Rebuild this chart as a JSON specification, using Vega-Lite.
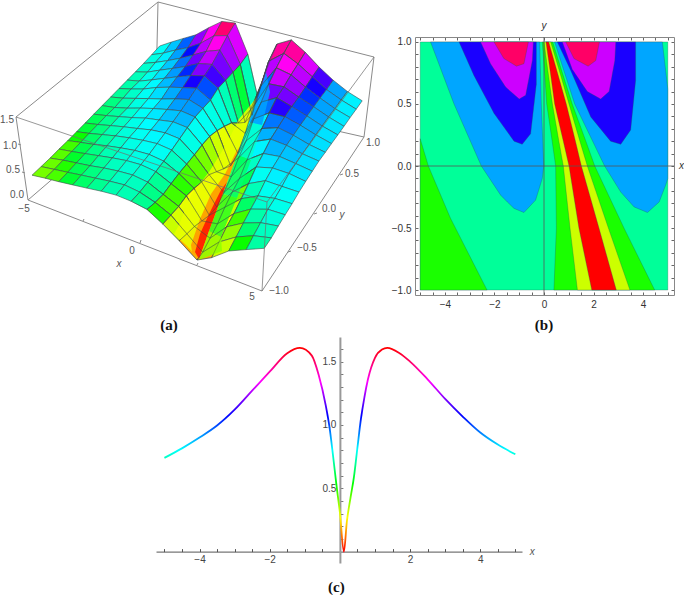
{"$schema":"https://vega.github.io/schema/vega-lite/v6.json","padding":0,"background":"white","spacing":3,"config":{"view":{"stroke":null},"concat":{"spacing":0},"text":{"font":"Liberation Sans"},"axis":{"labelFont":"Liberation Sans","grid":false,"title":null}},
"datasets":{
"surf":[
{"i":0,"j":15,"Xa":160.7,"Ya":44,"z":0.74},{"i":1,"j":15,"Xa":172.5,"Ya":40,"z":0.87},{"i":2,"j":15,"Xa":184.5,"Ya":36.4,"z":1.0},{"i":3,"j":15,"Xa":196.9,"Ya":32.8,"z":1.13},{"i":4,"j":15,"Xa":209.7,"Ya":25.7,"z":1.33},{"i":5,"j":15,"Xa":222.9,"Ya":19.4,"z":1.52},{"i":6,"j":15,"Xa":236.3,"Ya":21,"z":1.6},{"i":7,"j":15,"Xa":248.8,"Ya":52.1,"z":1.05},{"i":8,"j":15,"Xa":258,"Ya":92,"z":0.55},{"i":9,"j":15,"Xa":278,"Ya":42,"z":1.53},{"i":10,"j":15,"Xa":292.3,"Ya":37.9,"z":1.57},{"i":11,"j":15,"Xa":306.2,"Ya":50.3,"z":1.41},{"i":12,"j":15,"Xa":320.1,"Ya":65.1,"z":1.2},{"i":13,"j":15,"Xa":334.2,"Ya":78.2,"z":1.02},{"i":14,"j":15,"Xa":348.4,"Ya":89.5,"z":0.875},{"i":15,"j":15,"Xa":363.2,"Ya":98.8,"z":0.77},
{"i":0,"j":14,"Xa":152.7,"Ya":52.7,"z":0.71},{"i":1,"j":14,"Xa":164.5,"Ya":51.1,"z":0.8},{"i":2,"j":14,"Xa":176.6,"Ya":48,"z":0.92},{"i":3,"j":14,"Xa":189,"Ya":45.6,"z":1.03},{"i":4,"j":14,"Xa":201.8,"Ya":41.2,"z":1.18},{"i":5,"j":14,"Xa":215,"Ya":33.8,"z":1.39},{"i":6,"j":14,"Xa":228.5,"Ya":33.6,"z":1.47},{"i":7,"j":14,"Xa":241.3,"Ya":62.4,"z":1.0},{"i":8,"j":14,"Xa":252.9,"Ya":113.2,"z":0.1},{"i":9,"j":14,"Xa":269.7,"Ya":59.2,"z":1.22},{"i":10,"j":14,"Xa":284.8,"Ya":51.3,"z":1.46},{"i":11,"j":14,"Xa":299,"Ya":61.9,"z":1.34},{"i":12,"j":14,"Xa":313.3,"Ya":74.8,"z":1.17},{"i":13,"j":14,"Xa":327.6,"Ya":87.6,"z":1.0},{"i":14,"j":14,"Xa":342.2,"Ya":97.9,"z":0.88},{"i":15,"j":14,"Xa":357.2,"Ya":107.2,"z":0.78},
{"i":0,"j":13,"Xa":144.6,"Ya":61.4,"z":0.68},{"i":1,"j":13,"Xa":156.5,"Ya":60.4,"z":0.76},{"i":2,"j":13,"Xa":168.7,"Ya":58.6,"z":0.86},{"i":3,"j":13,"Xa":181.2,"Ya":56.2,"z":0.97},{"i":4,"j":13,"Xa":194.1,"Ya":53,"z":1.1},{"i":5,"j":13,"Xa":207.2,"Ya":49.4,"z":1.24},{"i":6,"j":13,"Xa":220.8,"Ya":48.1,"z":1.34},{"i":7,"j":13,"Xa":234,"Ya":70.3,"z":1.0},{"i":8,"j":13,"Xa":246,"Ya":120.4,"z":0.12},{"i":9,"j":13,"Xa":261.6,"Ya":84.3,"z":0.89},{"i":10,"j":13,"Xa":277.4,"Ya":65.8,"z":1.33},{"i":11,"j":13,"Xa":292,"Ya":72.8,"z":1.28},{"i":12,"j":13,"Xa":306.5,"Ya":85.1,"z":1.13},{"i":13,"j":13,"Xa":321.1,"Ya":96.1,"z":1.0},{"i":14,"j":13,"Xa":335.9,"Ya":106.6,"z":0.88},{"i":15,"j":13,"Xa":351.1,"Ya":115.6,"z":0.79},
{"i":0,"j":12,"Xa":136.5,"Ya":69.8,"z":0.66},{"i":1,"j":12,"Xa":148.5,"Ya":70.1,"z":0.72},{"i":2,"j":12,"Xa":160.7,"Ya":68.2,"z":0.82},{"i":3,"j":12,"Xa":173.4,"Ya":66.5,"z":0.92},{"i":4,"j":12,"Xa":186.3,"Ya":64.5,"z":1.03},{"i":5,"j":12,"Xa":199.5,"Ya":61.5,"z":1.16},{"i":6,"j":12,"Xa":213,"Ya":62.4,"z":1.22},{"i":7,"j":12,"Xa":226.6,"Ya":78.3,"z":1.0},{"i":8,"j":12,"Xa":239.4,"Ya":121,"z":0.27},{"i":9,"j":12,"Xa":254,"Ya":105.1,"z":0.65},{"i":10,"j":12,"Xa":269.8,"Ya":81.8,"z":1.18},{"i":11,"j":12,"Xa":284.9,"Ya":84.8,"z":1.21},{"i":12,"j":12,"Xa":299.7,"Ya":95.1,"z":1.1},{"i":13,"j":12,"Xa":314.7,"Ya":104.8,"z":1.0},{"i":14,"j":12,"Xa":329.6,"Ya":115,"z":0.89},{"i":15,"j":12,"Xa":345,"Ya":124.3,"z":0.8},
{"i":0,"j":11,"Xa":128.3,"Ya":78.1,"z":0.64},{"i":1,"j":11,"Xa":140.4,"Ya":79.1,"z":0.69},{"i":2,"j":11,"Xa":152.8,"Ya":77.9,"z":0.78},{"i":3,"j":11,"Xa":165.4,"Ya":76.3,"z":0.88},{"i":4,"j":11,"Xa":178.3,"Ya":74.8,"z":0.98},{"i":5,"j":11,"Xa":191.7,"Ya":73.5,"z":1.08},{"i":6,"j":11,"Xa":205.3,"Ya":73.9,"z":1.15},{"i":7,"j":11,"Xa":219.1,"Ya":86.2,"z":1.0},{"i":8,"j":11,"Xa":232.5,"Ya":120.9,"z":0.43},{"i":9,"j":11,"Xa":246.2,"Ya":131.4,"z":0.31},{"i":10,"j":11,"Xa":262.3,"Ya":100,"z":0.99},{"i":11,"j":11,"Xa":277.7,"Ya":95.7,"z":1.16},{"i":12,"j":11,"Xa":292.8,"Ya":104.6,"z":1.08},{"i":13,"j":11,"Xa":308,"Ya":114,"z":0.99},{"i":14,"j":11,"Xa":323.2,"Ya":124,"z":0.89},{"i":15,"j":11,"Xa":338.8,"Ya":132.9,"z":0.81},
{"i":0,"j":10,"Xa":120,"Ya":86.5,"z":0.62},{"i":1,"j":10,"Xa":132.1,"Ya":87,"z":0.68},{"i":2,"j":10,"Xa":144.6,"Ya":87,"z":0.75},{"i":3,"j":10,"Xa":157.4,"Ya":85.5,"z":0.85},{"i":4,"j":10,"Xa":170.4,"Ya":85.2,"z":0.93},{"i":5,"j":10,"Xa":183.8,"Ya":85.6,"z":1.0},{"i":6,"j":10,"Xa":197.5,"Ya":86.1,"z":1.07},{"i":7,"j":10,"Xa":211.5,"Ya":98.1,"z":0.93},{"i":8,"j":10,"Xa":225.3,"Ya":124.4,"z":0.52},{"i":9,"j":10,"Xa":238.8,"Ya":151.2,"z":0.1},{"i":10,"j":10,"Xa":254.7,"Ya":116.8,"z":0.83},{"i":11,"j":10,"Xa":270.2,"Ya":110.9,"z":1.03},{"i":12,"j":10,"Xa":285.8,"Ya":114.7,"z":1.05},{"i":13,"j":10,"Xa":301.3,"Ya":123.2,"z":0.98},{"i":14,"j":10,"Xa":316.7,"Ya":132.8,"z":0.89},{"i":15,"j":10,"Xa":332.5,"Ya":141.6,"z":0.82},
{"i":0,"j":9,"Xa":111.7,"Ya":95,"z":0.6},{"i":1,"j":9,"Xa":124,"Ya":96.2,"z":0.65},{"i":2,"j":9,"Xa":136.5,"Ya":96.4,"z":0.72},{"i":3,"j":9,"Xa":149.4,"Ya":96.6,"z":0.79},{"i":4,"j":9,"Xa":162.6,"Ya":97,"z":0.86},{"i":5,"j":9,"Xa":176,"Ya":96.9,"z":0.94},{"i":6,"j":9,"Xa":189.8,"Ya":97.5,"z":1.01},{"i":7,"j":9,"Xa":203.9,"Ya":106.3,"z":0.93},{"i":8,"j":9,"Xa":218.1,"Ya":128.6,"z":0.6},{"i":9,"j":9,"Xa":231.6,"Ya":163.8,"z":0.03},{"i":10,"j":9,"Xa":247.1,"Ya":138.9,"z":0.58},{"i":11,"j":9,"Xa":262.9,"Ya":126.5,"z":0.9},{"i":12,"j":9,"Xa":278.9,"Ya":125.6,"z":1.01},{"i":13,"j":9,"Xa":294.4,"Ya":133.3,"z":0.96},{"i":14,"j":9,"Xa":310.1,"Ya":142.5,"z":0.88},{"i":15,"j":9,"Xa":326.3,"Ya":150.3,"z":0.83},
{"i":0,"j":8,"Xa":103.2,"Ya":103.6,"z":0.58},{"i":1,"j":8,"Xa":115.7,"Ya":105.5,"z":0.62},{"i":2,"j":8,"Xa":128.3,"Ya":106.2,"z":0.68},{"i":3,"j":8,"Xa":141.2,"Ya":106.1,"z":0.76},{"i":4,"j":8,"Xa":154.4,"Ya":106.5,"z":0.83},{"i":5,"j":8,"Xa":168,"Ya":107.5,"z":0.89},{"i":6,"j":8,"Xa":181.9,"Ya":108.8,"z":0.95},{"i":7,"j":8,"Xa":196.1,"Ya":115,"z":0.92},{"i":8,"j":8,"Xa":210.6,"Ya":134.4,"z":0.65},{"i":9,"j":8,"Xa":224.5,"Ya":166.8,"z":0.14},{"i":10,"j":8,"Xa":239.6,"Ya":155.8,"z":0.43},{"i":11,"j":8,"Xa":255.6,"Ya":139.5,"z":0.82},{"i":12,"j":8,"Xa":271.6,"Ya":137.1,"z":0.96},{"i":13,"j":8,"Xa":287.5,"Ya":143.3,"z":0.94},{"i":14,"j":8,"Xa":303.4,"Ya":151.8,"z":0.88},{"i":15,"j":8,"Xa":319.9,"Ya":159.1,"z":0.84},
{"i":0,"j":7,"Xa":94.7,"Ya":112.2,"z":0.56},{"i":1,"j":7,"Xa":107.3,"Ya":113.6,"z":0.61},{"i":2,"j":7,"Xa":120,"Ya":114.6,"z":0.67},{"i":3,"j":7,"Xa":133,"Ya":115.6,"z":0.73},{"i":4,"j":7,"Xa":146.4,"Ya":116.1,"z":0.8},{"i":5,"j":7,"Xa":160.1,"Ya":118,"z":0.85},{"i":6,"j":7,"Xa":174,"Ya":119.8,"z":0.9},{"i":7,"j":7,"Xa":188.4,"Ya":125.6,"z":0.88},{"i":8,"j":7,"Xa":203.1,"Ya":143,"z":0.65},{"i":9,"j":7,"Xa":217.5,"Ya":169.7,"z":0.25},{"i":10,"j":7,"Xa":232.3,"Ya":174.6,"z":0.25},{"i":11,"j":7,"Xa":248.1,"Ya":157.8,"z":0.65},{"i":12,"j":7,"Xa":264.3,"Ya":151.5,"z":0.86},{"i":13,"j":7,"Xa":280.6,"Ya":154.5,"z":0.9},{"i":14,"j":7,"Xa":296.8,"Ya":161.6,"z":0.87},{"i":15,"j":7,"Xa":313.3,"Ya":169.2,"z":0.83},
{"i":0,"j":6,"Xa":86.2,"Ya":121,"z":0.54},{"i":1,"j":6,"Xa":98.8,"Ya":122.5,"z":0.59},{"i":2,"j":6,"Xa":111.6,"Ya":123.6,"z":0.65},{"i":3,"j":6,"Xa":124.8,"Ya":124.8,"z":0.71},{"i":4,"j":6,"Xa":138.3,"Ya":126.5,"z":0.76},{"i":5,"j":6,"Xa":152,"Ya":127.9,"z":0.82},{"i":6,"j":6,"Xa":166.2,"Ya":130.9,"z":0.85},{"i":7,"j":6,"Xa":180.6,"Ya":136.8,"z":0.83},{"i":8,"j":6,"Xa":195.4,"Ya":152.8,"z":0.63},{"i":9,"j":6,"Xa":210.1,"Ya":172.7,"z":0.36},{"i":10,"j":6,"Xa":224.9,"Ya":190.5,"z":0.13},{"i":11,"j":6,"Xa":240.6,"Ya":176.3,"z":0.48},{"i":12,"j":6,"Xa":257.1,"Ya":165,"z":0.78},{"i":13,"j":6,"Xa":273.5,"Ya":166,"z":0.86},{"i":14,"j":6,"Xa":290,"Ya":171.5,"z":0.86},{"i":15,"j":6,"Xa":306.7,"Ya":179.4,"z":0.82},
{"i":0,"j":5,"Xa":77.6,"Ya":129.7,"z":0.52},{"i":1,"j":5,"Xa":90.2,"Ya":131.4,"z":0.57},{"i":2,"j":5,"Xa":103.2,"Ya":132.6,"z":0.63},{"i":3,"j":5,"Xa":116.5,"Ya":133.9,"z":0.69},{"i":4,"j":5,"Xa":130,"Ya":135.8,"z":0.74},{"i":5,"j":5,"Xa":143.9,"Ya":138.3,"z":0.78},{"i":6,"j":5,"Xa":158.1,"Ya":141.6,"z":0.81},{"i":7,"j":5,"Xa":172.7,"Ya":148.1,"z":0.78},{"i":8,"j":5,"Xa":187.7,"Ya":162.1,"z":0.62},{"i":9,"j":5,"Xa":202.7,"Ya":180,"z":0.39},{"i":10,"j":5,"Xa":217.6,"Ya":204.9,"z":0.04},{"i":11,"j":5,"Xa":233.3,"Ya":190,"z":0.4},{"i":12,"j":5,"Xa":249.6,"Ya":181.6,"z":0.65},{"i":13,"j":5,"Xa":266.4,"Ya":178.7,"z":0.8},{"i":14,"j":5,"Xa":282.9,"Ya":184.4,"z":0.8},{"i":15,"j":5,"Xa":300,"Ya":190.1,"z":0.8},
{"i":0,"j":4,"Xa":68.8,"Ya":138.6,"z":0.5},{"i":1,"j":4,"Xa":81.6,"Ya":140.4,"z":0.55},{"i":2,"j":4,"Xa":94.7,"Ya":142.4,"z":0.6},{"i":3,"j":4,"Xa":108,"Ya":143.8,"z":0.66},{"i":4,"j":4,"Xa":121.7,"Ya":145.9,"z":0.71},{"i":5,"j":4,"Xa":135.7,"Ya":148.4,"z":0.75},{"i":6,"j":4,"Xa":150.1,"Ya":152.4,"z":0.77},{"i":7,"j":4,"Xa":164.8,"Ya":159.2,"z":0.74},{"i":8,"j":4,"Xa":179.9,"Ya":171.5,"z":0.61},{"i":9,"j":4,"Xa":195.1,"Ya":186.4,"z":0.44},{"i":10,"j":4,"Xa":210.3,"Ya":213.3,"z":0.06},{"i":11,"j":4,"Xa":225.9,"Ya":205.2,"z":0.3},{"i":12,"j":4,"Xa":242.3,"Ya":196.7,"z":0.55},{"i":13,"j":4,"Xa":259,"Ya":193.9,"z":0.7},{"i":14,"j":4,"Xa":275.8,"Ya":196.4,"z":0.76},{"i":15,"j":4,"Xa":293.1,"Ya":201.7,"z":0.77},
{"i":0,"j":3,"Xa":60,"Ya":147.1,"z":0.49},{"i":1,"j":3,"Xa":72.9,"Ya":149.5,"z":0.53},{"i":2,"j":3,"Xa":86.1,"Ya":151.6,"z":0.58},{"i":3,"j":3,"Xa":99.5,"Ya":153.7,"z":0.63},{"i":4,"j":3,"Xa":113.4,"Ya":155.9,"z":0.68},{"i":5,"j":3,"Xa":127.5,"Ya":158.6,"z":0.72},{"i":6,"j":3,"Xa":141.9,"Ya":162.7,"z":0.74},{"i":7,"j":3,"Xa":156.8,"Ya":169.6,"z":0.71},{"i":8,"j":3,"Xa":172.1,"Ya":181.7,"z":0.59},{"i":9,"j":3,"Xa":187.4,"Ya":193.9,"z":0.47},{"i":10,"j":3,"Xa":202.9,"Ya":218.9,"z":0.13},{"i":11,"j":3,"Xa":218.5,"Ya":221.8,"z":0.18},{"i":12,"j":3,"Xa":234.9,"Ya":211.6,"z":0.46},{"i":13,"j":3,"Xa":251.8,"Ya":207.1,"z":0.64},{"i":14,"j":3,"Xa":268.9,"Ya":207.3,"z":0.74},{"i":15,"j":3,"Xa":286.2,"Ya":212.8,"z":0.75},
{"i":0,"j":2,"Xa":51.1,"Ya":156.1,"z":0.47},{"i":1,"j":2,"Xa":64.1,"Ya":158.2,"z":0.52},{"i":2,"j":2,"Xa":77.4,"Ya":160.9,"z":0.56},{"i":3,"j":2,"Xa":91,"Ya":163.7,"z":0.6},{"i":4,"j":2,"Xa":104.9,"Ya":166,"z":0.65},{"i":5,"j":2,"Xa":119.1,"Ya":169,"z":0.69},{"i":6,"j":2,"Xa":133.7,"Ya":173,"z":0.71},{"i":7,"j":2,"Xa":148.8,"Ya":180.2,"z":0.68},{"i":8,"j":2,"Xa":164.2,"Ya":192.4,"z":0.56},{"i":9,"j":2,"Xa":179.7,"Ya":204.4,"z":0.45},{"i":10,"j":2,"Xa":195.4,"Ya":224.5,"z":0.2},{"i":11,"j":2,"Xa":211.1,"Ya":236.2,"z":0.1},{"i":12,"j":2,"Xa":227.5,"Ya":224.9,"z":0.4},{"i":13,"j":2,"Xa":244.4,"Ya":221,"z":0.57},{"i":14,"j":2,"Xa":261.6,"Ya":220.7,"z":0.68},{"i":15,"j":2,"Xa":279.3,"Ya":224,"z":0.73},
{"i":0,"j":1,"Xa":42.1,"Ya":164.6,"z":0.46},{"i":1,"j":1,"Xa":55.3,"Ya":167.4,"z":0.5},{"i":2,"j":1,"Xa":68.7,"Ya":170.3,"z":0.54},{"i":3,"j":1,"Xa":82.4,"Ya":173.1,"z":0.58},{"i":4,"j":1,"Xa":96.5,"Ya":176.2,"z":0.62},{"i":5,"j":1,"Xa":110.7,"Ya":179.2,"z":0.66},{"i":6,"j":1,"Xa":125.5,"Ya":182.9,"z":0.69},{"i":7,"j":1,"Xa":140.7,"Ya":190.1,"z":0.66},{"i":8,"j":1,"Xa":156.2,"Ya":200.4,"z":0.58},{"i":9,"j":1,"Xa":171.9,"Ya":213.1,"z":0.46},{"i":10,"j":1,"Xa":187.9,"Ya":231.8,"z":0.24},{"i":11,"j":1,"Xa":203.7,"Ya":250.2,"z":0.03},{"i":12,"j":1,"Xa":220.1,"Ya":240,"z":0.31},{"i":13,"j":1,"Xa":237.1,"Ya":235,"z":0.5},{"i":14,"j":1,"Xa":254.5,"Ya":233.7,"z":0.63},{"i":15,"j":1,"Xa":272.3,"Ya":235.9,"z":0.7},
{"i":0,"j":0,"Xa":33,"Ya":173.2,"z":0.45},{"i":1,"j":0,"Xa":46.2,"Ya":176.2,"z":0.49},{"i":2,"j":0,"Xa":59.8,"Ya":179.7,"z":0.52},{"i":3,"j":0,"Xa":73.7,"Ya":182.9,"z":0.56},{"i":4,"j":0,"Xa":87.8,"Ya":186.1,"z":0.6},{"i":5,"j":0,"Xa":102.3,"Ya":189.2,"z":0.64},{"i":6,"j":0,"Xa":117.1,"Ya":193.1,"z":0.67},{"i":7,"j":0,"Xa":132.3,"Ya":199.3,"z":0.66},{"i":8,"j":0,"Xa":148,"Ya":207.4,"z":0.62},{"i":9,"j":0,"Xa":163.9,"Ya":222.1,"z":0.47},{"i":10,"j":0,"Xa":180.2,"Ya":238.7,"z":0.29},{"i":11,"j":0,"Xa":198,"Ya":258,"z":0.05},{"i":12,"j":0,"Xa":212.7,"Ya":255.6,"z":0.22},{"i":13,"j":0,"Xa":229.7,"Ya":249,"z":0.44},{"i":14,"j":0,"Xa":247.2,"Ya":247.6,"z":0.57},{"i":15,"j":0,"Xa":265.3,"Ya":246.3,"z":0.7}
],
"valley":[
{"k":"y","o":0,"px":200,"py":257},{"k":"y","o":1,"px":210,"py":229},{"k":"y","o":2,"px":220,"py":202},{"k":"y","o":3,"px":232,"py":170},{"k":"y","o":4,"px":241,"py":145},{"k":"y","o":5,"px":250,"py":120},{"k":"y","o":6,"px":258,"py":95},{"k":"y","o":7,"px":240,"py":117},{"k":"y","o":8,"px":227,"py":143},{"k":"y","o":9,"px":210,"py":170},{"k":"y","o":10,"px":192,"py":193},{"k":"y","o":11,"px":180,"py":223},{"k":"y","o":12,"px":175,"py":232},{"k":"y","o":13,"px":187,"py":243},
{"k":"o","o":0,"px":200,"py":257},{"k":"o","o":1,"px":210,"py":229},{"k":"o","o":2,"px":220,"py":202},{"k":"o","o":3,"px":232,"py":170},{"k":"o","o":4,"px":242,"py":143},{"k":"o","o":5,"px":237,"py":150},{"k":"o","o":6,"px":226,"py":172},{"k":"o","o":7,"px":212,"py":192},{"k":"o","o":8,"px":201,"py":217},{"k":"o","o":9,"px":192,"py":243},{"k":"o","o":10,"px":193,"py":250},
{"k":"r","o":0,"px":200,"py":257},{"k":"r","o":1,"px":210,"py":229},{"k":"r","o":2,"px":220,"py":202},{"k":"r","o":3,"px":228,"py":180},{"k":"r","o":4,"px":222,"py":188},{"k":"r","o":5,"px":210,"py":212},{"k":"r","o":6,"px":201,"py":232},{"k":"r","o":7,"px":196,"py":250},
{"k":"g1","o":0,"px":200,"py":258},{"k":"g1","o":1,"px":210,"py":229},{"k":"g1","o":2,"px":222,"py":235},{"k":"g1","o":3,"px":223,"py":249},
{"k":"g2","o":0,"px":210,"py":229},{"k":"g2","o":1,"px":224,"py":192},{"k":"g2","o":2,"px":238,"py":196},{"k":"g2","o":3,"px":222,"py":235},
{"k":"g3","o":0,"px":224,"py":192},{"k":"g3","o":1,"px":238,"py":153},{"k":"g3","o":2,"px":252,"py":158},{"k":"g3","o":3,"px":238,"py":196},
{"k":"g4","o":0,"px":238,"py":153},{"k":"g4","o":1,"px":250,"py":120},{"k":"g4","o":2,"px":263,"py":123},{"k":"g4","o":3,"px":252,"py":158},
{"k":"g5","o":0,"px":250,"py":120},{"k":"g5","o":1,"px":259,"py":96},{"k":"g5","o":2,"px":267,"py":70},{"k":"g5","o":3,"px":271,"py":90},{"k":"g5","o":4,"px":263,"py":123}
],
"box":[
{"p":"back","s":"a","o":0,"px":29,"py":198},{"p":"back","s":"a","o":1,"px":157,"py":88},{"p":"back","s":"b","o":0,"px":157,"py":88},{"p":"back","s":"b","o":1,"px":365,"py":135},{"p":"back","s":"c","o":0,"px":159,"py":0},{"p":"back","s":"c","o":1,"px":157,"py":88},{"p":"back","s":"d","o":0,"px":17,"py":115},{"p":"back","s":"d","o":1,"px":159,"py":0},{"p":"back","s":"d","o":2,"px":375,"py":55},{"p":"back","s":"d","o":3,"px":365,"py":135},{"p":"back","s":"d","o":4,"px":263,"py":289},{"p":"back","s":"d","o":5,"px":29,"py":198},{"p":"back","s":"d","o":6,"px":17,"py":115},
{"p":"front","s":"e","o":0,"px":17,"py":115},{"p":"front","s":"e","o":1,"px":268,"py":200},{"p":"front","s":"e","o":2,"px":375,"py":55},{"p":"front","s":"f","o":0,"px":268,"py":200},{"p":"front","s":"f","o":1,"px":263,"py":289},
{"p":"back","s":"t1","o":0,"px":141,"py":241},{"p":"back","s":"t1","o":1,"px":142,"py":238},{"p":"back","s":"t2","o":0,"px":84,"py":219},{"p":"back","s":"t2","o":1,"px":85,"py":217},{"p":"back","s":"t3","o":0,"px":198,"py":263},{"p":"back","s":"t3","o":1,"px":199,"py":261},{"p":"back","s":"t4","o":0,"px":289,"py":250},{"p":"back","s":"t4","o":1,"px":292,"py":249},{"p":"back","s":"t5","o":0,"px":315,"py":212},{"p":"back","s":"t5","o":1,"px":318,"py":211},{"p":"back","s":"t6","o":0,"px":341,"py":173},{"p":"back","s":"t6","o":1,"px":344,"py":172},{"p":"back","s":"t7","o":0,"px":19,"py":142},{"p":"back","s":"t7","o":1,"px":22,"py":143},{"p":"back","s":"t8","o":0,"px":23,"py":170},{"p":"back","s":"t8","o":1,"px":26,"py":171}
],
"alabels":[
{"px":8,"py":118,"t":"1.5"},{"px":11,"py":144,"t":"1.0"},{"px":14,"py":168,"t":"0.5"},{"px":18,"py":193,"t":"0.0"},{"px":25,"py":207,"t":"−5"},{"px":133,"py":249,"t":"0"},{"px":253,"py":295,"t":"5"},{"px":280,"py":289,"t":"−1.0"},{"px":308,"py":246,"t":"−0.5"},{"px":330,"py":207,"t":"0.0"},{"px":353,"py":172,"t":"0.5"},{"px":374,"py":141,"t":"1.0"}
],
"bands":[
{"l":"0.6","p":"base","o":0,"x":-5,"y":-1},{"l":"0.6","p":"base","o":1,"x":-5,"y":1},{"l":"0.6","p":"base","o":2,"x":5,"y":1},{"l":"0.6","p":"base","o":3,"x":5,"y":-1},
{"l":"0.4","p":"gc","o":0,"x":-5,"y":0.22},{"l":"0.4","p":"gc","o":1,"x":-4.67,"y":0},{"l":"0.4","p":"gc","o":2,"x":-3.78,"y":-0.42},{"l":"0.4","p":"gc","o":3,"x":-2.3,"y":-1},{"l":"0.4","p":"gc","o":4,"x":-5,"y":-1},
{"l":"0.8","p":"lbl","o":0,"x":-4.58,"y":1},{"l":"0.8","p":"lbl","o":1,"x":-3.64,"y":0.503},{"l":"0.8","p":"lbl","o":2,"x":-2.53,"y":0},{"l":"0.8","p":"lbl","o":3,"x":-1.75,"y":-0.235},{"l":"0.8","p":"lbl","o":4,"x":-1.48,"y":-0.29},{"l":"0.8","p":"lbl","o":5,"x":-1.21,"y":-0.342},{"l":"0.8","p":"lbl","o":6,"x":-0.81,"y":-0.375},{"l":"0.8","p":"lbl","o":7,"x":-0.34,"y":-0.275},{"l":"0.8","p":"lbl","o":8,"x":-0.07,"y":-0.1},{"l":"0.8","p":"lbl","o":9,"x":-0.01,"y":0},{"l":"0.8","p":"lbl","o":10,"x":-0.11,"y":0.5},{"l":"0.8","p":"lbl","o":11,"x":-0.175,"y":1},
{"l":"0.8","p":"lbr","o":0,"x":0.43,"y":1},{"l":"0.8","p":"lbr","o":1,"x":1.24,"y":0.5},{"l":"0.8","p":"lbr","o":2,"x":2.45,"y":0},{"l":"0.8","p":"lbr","o":3,"x":3.1,"y":-0.21},{"l":"0.8","p":"lbr","o":4,"x":3.64,"y":-0.33},{"l":"0.8","p":"lbr","o":5,"x":4.18,"y":-0.375},{"l":"0.8","p":"lbr","o":6,"x":4.65,"y":-0.29},{"l":"0.8","p":"lbr","o":7,"x":4.92,"y":-0.15},{"l":"0.8","p":"lbr","o":8,"x":5,"y":-0.1},{"l":"0.8","p":"lbr","o":9,"x":5,"y":0.62},{"l":"0.8","p":"lbr","o":10,"x":4.78,"y":1},
{"l":"1.0","p":"bl","o":0,"x":-3.43,"y":1},{"l":"1.0","p":"bl","o":1,"x":-2.83,"y":0.73},{"l":"1.0","p":"bl","o":2,"x":-2.02,"y":0.425},{"l":"1.0","p":"bl","o":3,"x":-1.21,"y":0.2},{"l":"1.0","p":"bl","o":4,"x":-0.88,"y":0.175},{"l":"1.0","p":"bl","o":5,"x":-0.54,"y":0.26},{"l":"1.0","p":"bl","o":6,"x":-0.31,"y":0.66},{"l":"1.0","p":"bl","o":7,"x":-0.31,"y":1},
{"l":"1.0","p":"br","o":0,"x":0.54,"y":1},{"l":"1.0","p":"br","o":1,"x":1.08,"y":0.77},{"l":"1.0","p":"br","o":2,"x":1.89,"y":0.395},{"l":"1.0","p":"br","o":3,"x":2.69,"y":0.2},{"l":"1.0","p":"br","o":4,"x":3.1,"y":0.175},{"l":"1.0","p":"br","o":5,"x":3.5,"y":0.29},{"l":"1.0","p":"br","o":6,"x":3.7,"y":0.69},{"l":"1.0","p":"br","o":7,"x":3.7,"y":1},
{"l":"1.2","p":"ml","o":0,"x":-2.56,"y":1},{"l":"1.2","p":"ml","o":1,"x":-2.16,"y":0.825},{"l":"1.2","p":"ml","o":2,"x":-1.55,"y":0.636},{"l":"1.2","p":"ml","o":3,"x":-1.0,"y":0.54},{"l":"1.2","p":"ml","o":4,"x":-0.74,"y":0.57},{"l":"1.2","p":"ml","o":5,"x":-0.47,"y":0.85},{"l":"1.2","p":"ml","o":6,"x":-0.43,"y":1},
{"l":"1.2","p":"mr","o":0,"x":0.74,"y":1},{"l":"1.2","p":"mr","o":1,"x":1.14,"y":0.78},{"l":"1.2","p":"mr","o":2,"x":1.75,"y":0.6},{"l":"1.2","p":"mr","o":3,"x":2.29,"y":0.54},{"l":"1.2","p":"mr","o":4,"x":2.63,"y":0.6},{"l":"1.2","p":"mr","o":5,"x":2.86,"y":0.85},{"l":"1.2","p":"mr","o":6,"x":2.9,"y":1},
{"l":"1.4","p":"cl","o":0,"x":-2.02,"y":1},{"l":"1.4","p":"cl","o":1,"x":-1.62,"y":0.866},{"l":"1.4","p":"cl","o":2,"x":-1.11,"y":0.805},{"l":"1.4","p":"cl","o":3,"x":-0.81,"y":0.825},{"l":"1.4","p":"cl","o":4,"x":-0.63,"y":1},
{"l":"1.4","p":"cr","o":0,"x":0.88,"y":1},{"l":"1.4","p":"cr","o":1,"x":1.21,"y":0.866},{"l":"1.4","p":"cr","o":2,"x":1.78,"y":0.805},{"l":"1.4","p":"cr","o":3,"x":2.09,"y":0.85},{"l":"1.4","p":"cr","o":4,"x":2.24,"y":1},
{"l":"0.4","p":"vg","o":0,"x":-0.07,"y":1},{"l":"0.4","p":"vg","o":1,"x":0.03,"y":0.733},{"l":"0.4","p":"vg","o":2,"x":0.11,"y":0.5},{"l":"0.4","p":"vg","o":3,"x":0.33,"y":0.2},{"l":"0.4","p":"vg","o":4,"x":0.47,"y":0},{"l":"0.4","p":"vg","o":5,"x":0.5,"y":-0.5},{"l":"0.4","p":"vg","o":6,"x":0.4,"y":-1},{"l":"0.4","p":"vg","o":7,"x":4.47,"y":-1},{"l":"0.4","p":"vg","o":8,"x":3.23,"y":-0.5},{"l":"0.4","p":"vg","o":9,"x":2.05,"y":0},{"l":"0.4","p":"vg","o":10,"x":1.69,"y":0.2},{"l":"0.4","p":"vg","o":11,"x":1.14,"y":0.5},{"l":"0.4","p":"vg","o":12,"x":0.77,"y":0.733},{"l":"0.4","p":"vg","o":13,"x":0.35,"y":1},
{"l":"0.2","p":"vy","o":0,"x":0,"y":1},{"l":"0.2","p":"vy","o":1,"x":0.18,"y":0.733},{"l":"0.2","p":"vy","o":2,"x":0.34,"y":0.5},{"l":"0.2","p":"vy","o":3,"x":0.6,"y":0.2},{"l":"0.2","p":"vy","o":4,"x":0.78,"y":0},{"l":"0.2","p":"vy","o":5,"x":1.05,"y":-0.5},{"l":"0.2","p":"vy","o":6,"x":1.35,"y":-1},{"l":"0.2","p":"vy","o":7,"x":3.47,"y":-1},{"l":"0.2","p":"vy","o":8,"x":2.6,"y":-0.5},{"l":"0.2","p":"vy","o":9,"x":1.75,"y":0},{"l":"0.2","p":"vy","o":10,"x":1.45,"y":0.2},{"l":"0.2","p":"vy","o":11,"x":1.01,"y":0.5},{"l":"0.2","p":"vy","o":12,"x":0.67,"y":0.733},{"l":"0.2","p":"vy","o":13,"x":0.27,"y":1},
{"l":"0.0","p":"vr","o":0,"x":0.08,"y":1},{"l":"0.0","p":"vr","o":1,"x":0.27,"y":0.733},{"l":"0.0","p":"vr","o":2,"x":0.43,"y":0.5},{"l":"0.0","p":"vr","o":3,"x":0.78,"y":0.2},{"l":"0.0","p":"vr","o":4,"x":1.01,"y":0},{"l":"0.0","p":"vr","o":5,"x":1.41,"y":-0.5},{"l":"0.0","p":"vr","o":6,"x":1.93,"y":-1},{"l":"0.0","p":"vr","o":7,"x":2.92,"y":-1},{"l":"0.0","p":"vr","o":8,"x":2.22,"y":-0.5},{"l":"0.0","p":"vr","o":9,"x":1.51,"y":0},{"l":"0.0","p":"vr","o":10,"x":1.27,"y":0.2},{"l":"0.0","p":"vr","o":11,"x":0.9,"y":0.5},{"l":"0.0","p":"vr","o":12,"x":0.57,"y":0.733},{"l":"0.0","p":"vr","o":13,"x":0.19,"y":1}
],
"curve":[{"x":-5,"y":0.74},{"x":-4.5,"y":0.815},{"x":-4,"y":0.9},{"x":-3.5,"y":0.995},{"x":-3,"y":1.12},{"x":-2.5,"y":1.27},{"x":-2,"y":1.42},{"x":-1.5,"y":1.566},{"x":-1.14,"y":1.608},{"x":-0.8,"y":1.547},{"x":-0.6,"y":1.39},{"x":-0.4,"y":1.15},{"x":-0.3,"y":0.99},{"x":-0.2,"y":0.77},{"x":-0.1,"y":0.53},{"x":0,"y":0.31},{"x":0.114,"y":0},{"x":0.2,"y":0.24},{"x":0.3,"y":0.42},{"x":0.4,"y":0.587},{"x":0.5,"y":0.82},{"x":0.6,"y":1.047},{"x":0.7,"y":1.22},{"x":0.8,"y":1.36},{"x":1,"y":1.53},{"x":1.2,"y":1.595},{"x":1.35,"y":1.608},{"x":1.7,"y":1.566},{"x":2,"y":1.5},{"x":2.5,"y":1.36},{"x":3,"y":1.205},{"x":3.5,"y":1.066},{"x":4,"y":0.94},{"x":4.5,"y":0.845},{"x":5,"y":0.768}]
},
"vconcat":[
{"spacing":7,"hconcat":[
{"width":228,"height":275,"encoding":{"x":{"field":"px","type":"quantitative","scale":{"domain":[157,385]},"axis":null},"y":{"field":"py","type":"quantitative","scale":{"domain":[310,35]},"axis":null}},
"layer":[
{"data":{"name":"box"},"transform":[{"filter":"datum.p=='back'"}],"mark":{"type":"line","stroke":"#8a8a8a","strokeWidth":1},"encoding":{"detail":{"field":"s"},"order":{"field":"o"}}},
{"data":{"name":"surf"},"transform":[
{"window":[{"op":"lead","field":"Xa","as":"Xb"},{"op":"lead","field":"Ya","as":"Yb"},{"op":"mean","field":"z","as":"zm"}],"groupby":["i"],"sort":[{"field":"j"}],"frame":[0,1]},
{"window":[{"op":"lead","field":"Xa","as":"Xd"},{"op":"lead","field":"Ya","as":"Yd"},{"op":"lead","field":"Xb","as":"Xc"},{"op":"lead","field":"Yb","as":"Yc"},{"op":"mean","field":"zm","as":"zq"}],"groupby":["j"],"sort":[{"field":"i"}],"frame":[0,1]},
{"filter":"isValid(datum.Xc)"},
{"fold":["Xa","Xb","Xc","Xd"],"as":["kx","px"]},
{"fold":["Ya","Yb","Yc","Yd"],"as":["ky","py"]},
{"filter":"substring(datum.kx,1)==substring(datum.ky,1)"}
],
"mark":{"type":"line","interpolate":"linear-closed","stroke":"#3c4a4a","strokeWidth":0.7,"strokeOpacity":0.85},
"encoding":{"detail":[{"field":"j"},{"field":"i"}],"order":{"field":"kx"},"fill":{"field":"zq","type":"quantitative","legend":null,"scale":{"type":"linear","domain":[0,0.268,0.536,0.804,1.072,1.34,1.608],"range":["#ff0000","#ffff00","#00ff00","#00ffff","#0000ff","#ff00ff","#ff0000"],"clamp":true}}}},
{"data":{"name":"valley"},"mark":{"type":"line","interpolate":"linear-closed","strokeWidth":0,"fillOpacity":0.88},
"encoding":{"detail":{"field":"k"},"order":{"field":"o"},"fill":{"field":"k","type":"nominal","legend":null,"sort":null,"scale":{"domain":["y","o","r","g1","g2","g3","g4","g5"],"range":["#e8ff00","#ff9800","#ff1500","#90ff00","#30ff20","#00ff70","#00ffd0","#00a0ff"]}}}},
{"data":{"name":"surf"},"transform":[
{"filter":"datum.i>=7 && datum.i<=12"},
{"window":[{"op":"lead","field":"Xa","as":"Xb"},{"op":"lead","field":"Ya","as":"Yb"}],"groupby":["i"],"sort":[{"field":"j"}]},
{"window":[{"op":"lead","field":"Xa","as":"Xd"},{"op":"lead","field":"Ya","as":"Yd"},{"op":"lead","field":"Xb","as":"Xc"},{"op":"lead","field":"Yb","as":"Yc"}],"groupby":["j"],"sort":[{"field":"i"}]},
{"filter":"isValid(datum.Xc)"},
{"fold":["Xa","Xb","Xc","Xd"],"as":["kx","px"]},
{"fold":["Ya","Yb","Yc","Yd"],"as":["ky","py"]},
{"filter":"substring(datum.kx,1)==substring(datum.ky,1)"}
],
"mark":{"type":"line","interpolate":"linear-closed","stroke":"#3c4a4a","strokeWidth":0.6,"strokeOpacity":0.5},
"encoding":{"detail":[{"field":"j"},{"field":"i"}],"order":{"field":"kx"}}},
{"data":{"name":"box"},"transform":[{"filter":"datum.p=='front'"}],"mark":{"type":"line","stroke":"#6f6f6f","strokeWidth":0.9,"strokeOpacity":0.8},"encoding":{"detail":{"field":"s"},"order":{"field":"o"}}},
{"data":{"name":"alabels"},"mark":{"type":"text","fontSize":10,"fill":"#555555"},"encoding":{"text":{"field":"t"}}},
{"data":{"values":[{"px":120,"py":262,"t":"x"},{"px":343,"py":213,"t":"y"}]},"mark":{"type":"text","fontSize":10,"fontStyle":"italic","fill":"#555555"},"encoding":{"text":{"field":"t"}}},
{"data":{"values":[{"px":170,"py":323,"t":"(a)"}]},"mark":{"type":"text","fontSize":15,"font":"Liberation Serif","fontWeight":"bold","fill":"#111111"},"encoding":{"text":{"field":"t"}}}
]},
{"width":259,"height":258,"resolve":{"axis":{"x":"independent","y":"independent"}},
"layer":[
{"data":{"name":"bands"},"mark":{"type":"line","interpolate":"linear-closed","stroke":"#1a5a50","strokeWidth":0.5,"strokeOpacity":0.6},
"encoding":{"detail":{"field":"p"},"order":{"field":"o"},
"x":{"field":"x","type":"quantitative","scale":{"domain":[-5.21,5.25],"nice":false,"zero":false},"axis":{"orient":"bottom","values":[-5,-4.5,-4,-3.5,-3,-2.5,-2,-1.5,-1,-0.5,0,0.5,1,1.5,2,2.5,3,3.5,4,4.5,5],"labelExpr":"datum.value%2==0?format(datum.value,'d'):''","tickSize":-3,"labelPadding":7,"tickColor":"#666666","domainColor":"#888888","labelColor":"#333333","labelFontSize":10,"labelOverlap":false,"labelBound":false,"labelFlush":false}},
"y":{"field":"y","type":"quantitative","scale":{"domain":[-1.04,1.04],"nice":false,"zero":false},"axis":{"orient":"left","values":[-1,-0.9,-0.8,-0.7,-0.6,-0.5,-0.4,-0.3,-0.2,-0.1,0,0.1,0.2,0.3,0.4,0.5,0.6,0.7,0.8,0.9,1],"labelExpr":"abs(round(datum.value*10))%5==0?format(datum.value,'.1f'):''","tickSize":-3,"labelPadding":7,"tickColor":"#666666","domainColor":"#888888","labelColor":"#333333","labelFontSize":10,"labelOverlap":false,"labelBound":false,"labelFlush":false}},
"fill":{"field":"l","type":"nominal","legend":null,"scale":{"domain":["0.0","0.2","0.4","0.6","0.8","1.0","1.2","1.4"],"range":["#ff0000","#ccff00","#1aff00","#00ff99","#00a6ff","#1a00ff","#cc00ff","#ff0066"]}}}},
{"data":{"values":[{"x":0,"y":-1.04},{"x":0,"y":1.04}]},"mark":{"type":"line","stroke":"#555555","strokeWidth":0.8},
"encoding":{"x":{"field":"x","type":"quantitative","scale":{"domain":[-5.21,5.25],"nice":false,"zero":false},"axis":{"orient":"top","values":[-5,-4.5,-4,-3.5,-3,-2.5,-2,-1.5,-1,-0.5,0,0.5,1,1.5,2,2.5,3,3.5,4,4.5,5],"labels":false,"tickSize":-3,"tickColor":"#666666","domainColor":"#888888"}},
"y":{"field":"y","type":"quantitative","scale":{"domain":[-1.04,1.04],"nice":false,"zero":false},"axis":{"orient":"right","values":[-1,-0.9,-0.8,-0.7,-0.6,-0.5,-0.4,-0.3,-0.2,-0.1,0,0.1,0.2,0.3,0.4,0.5,0.6,0.7,0.8,0.9,1],"labels":false,"tickSize":-3,"tickColor":"#666666","domainColor":"#888888"}}}},
{"data":{"values":[{"x":-5.21,"y":0},{"x":5.25,"y":0}]},"mark":{"type":"line","stroke":"#555555","strokeWidth":0.8},"encoding":{"x":{"field":"x","type":"quantitative","scale":{"domain":[-5.21,5.25],"nice":false,"zero":false},"axis":null},"y":{"field":"y","type":"quantitative","scale":{"domain":[-1.04,1.04],"nice":false,"zero":false},"axis":null}}},
{"data":{"values":[{"x":5.55,"y":0,"t":"x"},{"x":0,"y":1.13,"t":"y"}]},"mark":{"type":"text","fontSize":10,"fontStyle":"italic","fill":"#333333"},"encoding":{"x":{"field":"x","type":"quantitative","scale":{"domain":[-5.21,5.25],"nice":false,"zero":false},"axis":null},"y":{"field":"y","type":"quantitative","scale":{"domain":[-1.04,1.04],"nice":false,"zero":false},"axis":null},"text":{"field":"t"}}},
{"data":{"values":[{"x":0,"y":-1.282,"t":"(b)"}]},"mark":{"type":"text","fontSize":15,"font":"Liberation Serif","fontWeight":"bold","fill":"#111111"},"encoding":{"x":{"field":"x","type":"quantitative","scale":{"domain":[-5.21,5.25],"nice":false,"zero":false},"axis":null},"y":{"field":"y","type":"quantitative","scale":{"domain":[-1.04,1.04],"nice":false,"zero":false},"axis":null},"text":{"field":"t"}}}
]}
]},
{"width":366,"height":226,
"encoding":{"x":{"field":"x","type":"quantitative","scale":{"domain":[-5.24,5.19],"nice":false,"zero":false},"axis":{"orient":"bottom","offset":-11.4,"values":[-5,-4.5,-4,-3.5,-3,-2.5,-2,-1.5,-1,-0.5,0.5,1,1.5,2,2.5,3,3.5,4,4.5,5],"labelExpr":"datum.value%2==0?format(datum.value,'d'):''","tickSize":-3,"labelPadding":6,"tickColor":"#555555","domainColor":"#555555","labelColor":"#444444","labelFontSize":10,"labelOverlap":false,"labelBound":false,"labelFlush":false}},
"y":{"field":"y","type":"quantitative","scale":{"domain":[-0.09,1.694],"nice":false,"zero":false},"axis":{"orient":"left","offset":-183.9,"values":[0.1,0.2,0.3,0.4,0.5,0.6,0.7,0.8,0.9,1,1.1,1.2,1.3,1.4,1.5,1.6],"labelExpr":"round(datum.value*10)%5==0?format(datum.value,'.1f'):''","tickSize":-3,"labelPadding":7,"tickColor":"#777777","domainColor":"#999999","domainWidth":2,"labelColor":"#444444","labelFontSize":10,"labelOverlap":false,"labelBound":false,"labelFlush":false}}},
"layer":[
{"data":{"name":"curve"},"mark":{"type":"line","interpolate":"monotone","strokeWidth":1.8,"stroke":{"gradient":"linear","x1":0,"y1":1,"x2":0,"y2":0,"stops":[{"offset":0,"color":"#ff0000"},{"offset":0.1667,"color":"#ffff00"},{"offset":0.3333,"color":"#00ff00"},{"offset":0.5,"color":"#00ffff"},{"offset":0.6667,"color":"#0000ff"},{"offset":0.8333,"color":"#ff00ff"},{"offset":1,"color":"#ff0000"}]}}},
{"data":{"values":[{"x":5.48,"y":0,"t":"x"}]},"mark":{"type":"text","fontSize":10,"fontStyle":"italic","fill":"#555555"},"encoding":{"text":{"field":"t"}}},
{"data":{"values":[{"x":-0.1,"y":-0.28,"t":"(c)"}]},"mark":{"type":"text","fontSize":15,"font":"Liberation Serif","fontWeight":"bold","fill":"#111111"},"encoding":{"text":{"field":"t"}}}
]}
]}
